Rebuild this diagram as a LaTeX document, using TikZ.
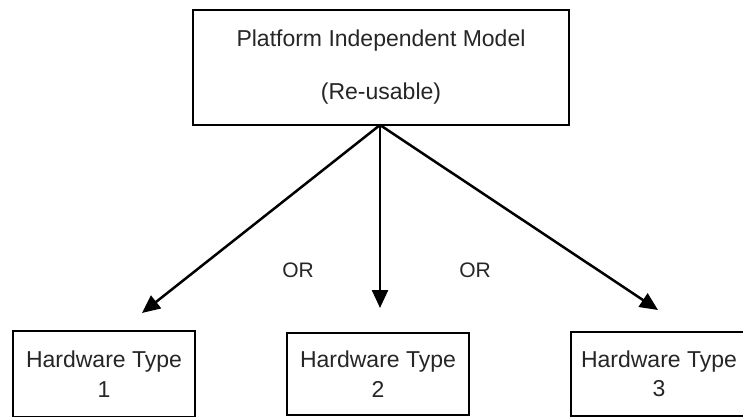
\documentclass[tikz,border=0pt]{standalone}
\usepackage{fontspec}
\setmainfont{Liberation Sans}
\usetikzlibrary{arrows.meta}
\begin{document}
\begin{tikzpicture}[x=1pt,y=-1pt,
  box/.style={draw=black,line width=2.8pt,rectangle,inner sep=0pt,align=center,text=black!85},
  conn/.style={draw=black,line width=2.5pt,-{Triangle[length=18pt,width=16pt]}},
  lbl/.style={inner sep=0pt,text=black!85,font=\fontsize{21}{25}\selectfont}]
\path[clip] (0,0) rectangle (743,416);
\fill[white] (0,0) rectangle (743,416);
\node[box,minimum width=376pt,minimum height=115pt,font=\fontsize{23}{53}\selectfont] (pim) at (381,67.5) {Platform Independent Model\\(Re-usable)};
\node[box,minimum width=182pt,minimum height=86pt,font=\fontsize{23}{29.5}\selectfont] (hw1) at (104,374) {Hardware Type\\1};
\node[box,minimum width=182pt,minimum height=82pt,font=\fontsize{23}{29.5}\selectfont] (hw2) at (378,374) {Hardware Type\\2};
\node[box,minimum width=176pt,minimum height=84pt,font=\fontsize{23}{29.5}\selectfont] (hw3) at (659,374) {Hardware Type\\3};
\coordinate (t1) at (142,313);
\coordinate (t2) at (380,308);
\coordinate (t3) at (658,310);
\coordinate (src) at (380,125);
\draw[conn] (src) -- (t1);
\draw[conn] (src) -- (t2);
\draw[conn] (src) -- (t3);
\node[lbl] (or1) at (298,270) {OR};
\node[lbl] (or2) at (475,270) {OR};
\end{tikzpicture}
\end{document}
